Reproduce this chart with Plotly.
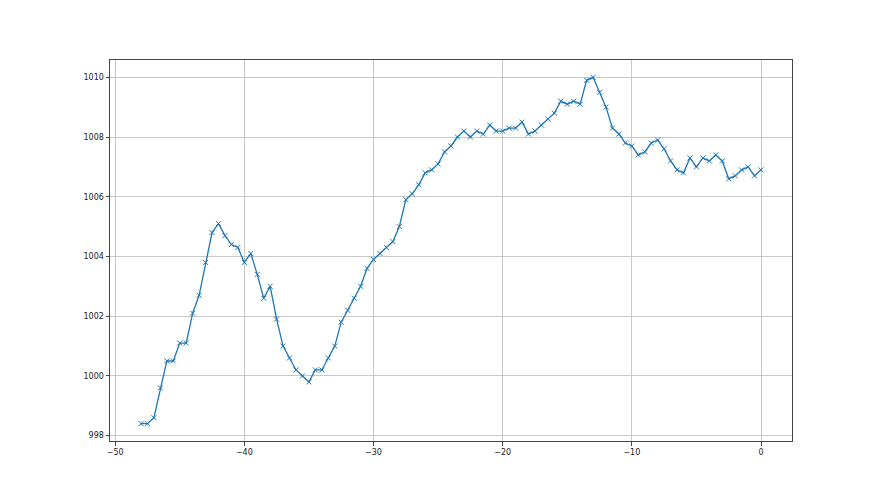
import numpy as np
import plotly.graph_objects as go

x_values = [-48 + 0.5 * i for i in range(97)]
pressure = [
    998.4, 998.4, 998.6, 999.6, 1000.5, 1000.5, 1001.1, 1001.1, 1002.1, 1002.7,
    1003.8, 1004.8, 1005.1, 1004.7, 1004.4, 1004.3, 1003.8, 1004.1, 1003.4, 1002.6,
    1003.0, 1001.9, 1001.0, 1000.6, 1000.2, 1000.0, 999.8, 1000.2, 1000.2, 1000.6,
    1001.0, 1001.8, 1002.2, 1002.6, 1003.0, 1003.6, 1003.9, 1004.1, 1004.3, 1004.5,
    1005.0, 1005.9, 1006.1, 1006.4, 1006.8, 1006.9, 1007.1, 1007.5, 1007.7, 1008.0,
    1008.2, 1008.0, 1008.2, 1008.1, 1008.4, 1008.2, 1008.2, 1008.3, 1008.3, 1008.5,
    1008.1, 1008.2, 1008.4, 1008.6, 1008.8, 1009.2, 1009.1, 1009.2, 1009.1, 1009.9,
    1010.0, 1009.5, 1009.0, 1008.3, 1008.1, 1007.8, 1007.7, 1007.4, 1007.5, 1007.8,
    1007.9, 1007.6, 1007.2, 1006.9, 1006.8, 1007.3, 1007.0, 1007.3, 1007.2, 1007.4,
    1007.2, 1006.6, 1006.7, 1006.9, 1007.0, 1006.7, 1006.9,
]
x_ticks = [-50, -40, -30, -20, -10, 0]
y_ticks = [998, 1000, 1002, 1004, 1006, 1008, 1010]

fig = go.Figure()
fig.add_trace(go.Scatter(
    x=x_values, y=pressure, mode="lines+markers",
    line=dict(color="#1f77b4", width=1.3),
    marker=dict(symbol="x-thin", size=5, color="#1f77b4",
                line=dict(color="#1f77b4", width=1)),
    showlegend=False,
))

axis_common = dict(
    showgrid=True, gridcolor="#c8c8c8", gridwidth=0.8,
    showline=True, linecolor="#444444", linewidth=1, mirror=True,
    ticks="outside", ticklen=3.5, tickcolor="#444444", tickwidth=1,
    zeroline=False,
    tickfont=dict(family="DejaVu Sans", size=8, color="#222222"),
)

fig.update_layout(
    width=880, height=495,
    margin=dict(l=102, r=96, t=52, b=62),
    paper_bgcolor="white", plot_bgcolor="white",
    xaxis=dict(range=[-50.4, 2.4], tickvals=x_ticks, **axis_common),
    yaxis=dict(range=[997.82, 1010.58], tickvals=y_ticks, **axis_common),
)

fig.write_html("out.html")
